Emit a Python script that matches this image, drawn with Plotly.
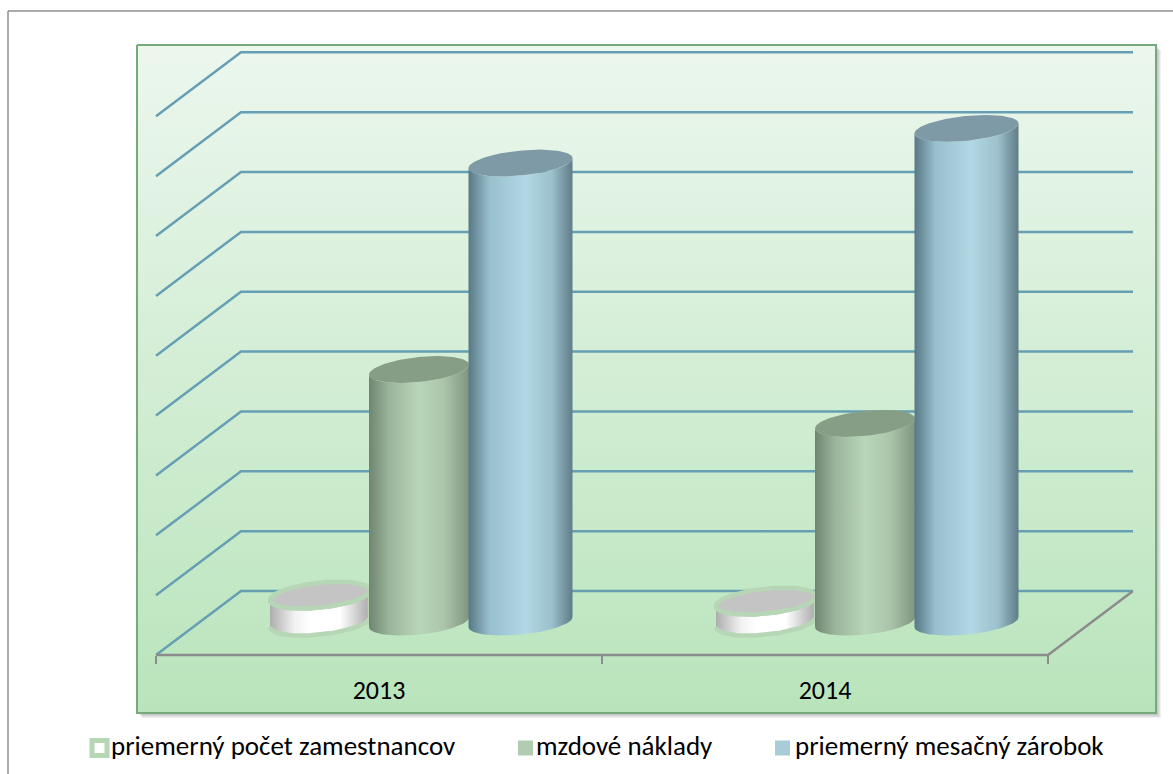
import numpy as np
import plotly.graph_objects as go

# values read in gridline units (the chart shows no value axis)
years = ["2013", "2014"]
pocet = [0.45, 0.35]
naklady = [4.22, 3.32]
zarobok = [7.67, 8.25]
grid_levels = [0, 1, 2, 3, 4, 5, 6, 7, 8, 9]
legend_names = ["priemerný počet zamestnancov", "mzdové náklady", "priemerný mesačný zárobok"]

W, H = 1173, 774
UNIT = 59.85      # px per gridline step
FLOOR = 591       # px of value 0 on the back wall
BASE = -0.52      # cylinders stand half way into the floor
FRONT_X0, FRONT_X1 = 156, 1048
DEPTH_X, DEPTH_Y = 85, 64
GROUP = (FRONT_X1 - FRONT_X0) / 2
FONT = "Carlito, Lato, sans-serif"
GRID_COLOR = "#669fb4"
AXIS_COLOR = "#8c8c8c"


def py(px):
    # pixel row to y axis value, only for the frame and legend
    return (FLOOR - px) / UNIT


def ellipse(cx, cy, a, t):
    # tilted ellipse seen from above, sin(t) > 0 is the front half
    return cx + a * np.cos(t), cy + (5 / UNIT) * np.cos(t) - (12.5 / UNIT) * np.sin(t)


def cylinder(fig, cx, value, a, side, top, line=None):
    top_y = BASE + value
    bx, by = ellipse(cx, BASE, a, np.linspace(np.pi, 0, 60))
    tx, ty = ellipse(cx, top_y, a, np.linspace(0, np.pi, 60))
    line_style = dict(color=line, width=4.5) if line else dict(width=0)
    fig.add_trace(go.Scatter(
        x=np.r_[bx, tx], y=np.r_[by, ty], mode="lines", fill="toself",
        fillgradient=dict(type="horizontal", colorscale=side),
        line=line_style, hoverinfo="skip", showlegend=False))
    ox, oy = ellipse(cx, top_y, a, np.linspace(0, 2 * np.pi, 120))
    fig.add_trace(go.Scatter(
        x=ox, y=oy, mode="lines", fill="toself", fillcolor=top,
        line=line_style, hoverinfo="skip", showlegend=False))


fig = go.Figure()

# panel
fig.add_trace(go.Scatter(
    x=[137, 1156, 1156, 137, 137], y=[py(45), py(45), py(713), py(713), py(45)],
    mode="lines", fill="toself",
    fillgradient=dict(type="vertical", colorscale=[[0, "#b9e4bb"], [1, "#ecf7ee"]]),
    line=dict(color="#77a97a", width=2), hoverinfo="skip", showlegend=False))

# walls and floor
for lev in grid_levels:
    fig.add_trace(go.Scatter(
        x=[FRONT_X0, FRONT_X0 + DEPTH_X, FRONT_X1 + DEPTH_X],
        y=[lev - DEPTH_Y / UNIT, lev, lev],
        mode="lines", line=dict(color=GRID_COLOR, width=2.5),
        hoverinfo="skip", showlegend=False))
fig.add_trace(go.Scatter(
    x=[FRONT_X0, FRONT_X1, FRONT_X1 + DEPTH_X],
    y=[-DEPTH_Y / UNIT, -DEPTH_Y / UNIT, 0],
    mode="lines", line=dict(color=AXIS_COLOR, width=2.5),
    hoverinfo="skip", showlegend=False))

white_side = [[0, "#adadad"], [0.25, "#f2f2f2"], [0.4, "#ffffff"], [0.7, "#ffffff"], [1, "#a8a8a8"]]
green_side = [[0, "#6f8570"], [0.2, "#9ab49b"], [0.5, "#b9d6b9"], [0.75, "#abc5ab"], [1, "#7f957f"]]
blue_side = [[0, "#587885"], [0.2, "#98bfcc"], [0.55, "#b1d8e4"], [0.8, "#9cc0cc"], [1, "#5f7d88"]]

for i in range(len(years)):
    center = FRONT_X0 + GROUP * (i + 0.5) + 40
    cylinder(fig, center - 99, pocet[i], 50, white_side, "#c4c4c4", line="#b6d6b6")
    cylinder(fig, center, naklady[i], 50, green_side, "#869d86")
    cylinder(fig, center + 101.5, zarobok[i], 52, blue_side, "#7f9aa7")

# legend, placed by hand so the gaps follow the text widths
legend_y = py(748)
swatch_x = [99.5, 525.5, 782.5]
text_x = [111, 536, 795]
swatch_style = [
    dict(symbol="square", size=15, color="#ffffff", line=dict(color="#b6d6b6", width=5)),
    dict(symbol="square", size=15, color="#b1ccb1"),
    dict(symbol="square", size=15, color="#a8ccd8"),
]
for name, sx, tx, style in zip(legend_names, swatch_x, text_x, swatch_style):
    fig.add_trace(go.Scatter(x=[sx], y=[legend_y], mode="markers", marker=style,
                             hoverinfo="skip", showlegend=False))
    fig.add_trace(go.Scatter(x=[tx], y=[legend_y], mode="text", text=[name],
                             textposition="middle right",
                             textfont=dict(family=FONT, size=27, color="#000000"),
                             hoverinfo="skip", showlegend=False))

# outer frame and panel shadow
shapes = [
    dict(type="line", xref="x", yref="y", x0=8, x1=W, y0=py(11), y1=py(11),
         line=dict(color="#8f8f8f", width=1.5), layer="below"),
    dict(type="line", xref="x", yref="y", x0=8, x1=8, y0=py(11), y1=py(H),
         line=dict(color="#8f8f8f", width=1.5), layer="below"),
]
for off in [1, 2, 3, 4, 5]:
    shapes.append(dict(type="rect", xref="x", yref="y", x0=137 + off, x1=1156 + off,
                       y0=py(45 + off), y1=py(713 + off),
                       fillcolor="rgba(0,0,0,0.06)", line=dict(width=0), layer="below"))

fig.update_layout(
    width=W, height=H, margin=dict(l=0, r=0, t=0, b=0),
    paper_bgcolor="#ffffff", plot_bgcolor="#ffffff",
    shapes=shapes, showlegend=False,
    font=dict(family=FONT, size=20, color="#000000"),
    xaxis=dict(
        range=[0, W], anchor="free", position=1 - 655 / H,
        showgrid=False, zeroline=False, showline=False, ticks="",
        tickvals=[FRONT_X0 + GROUP * (i + 0.5) for i in range(len(years))],
        ticktext=years, tickfont=dict(family=FONT, size=26, color="#000000"),
        ticklabelstandoff=17,
        minor=dict(tickmode="array", tickvals=[FRONT_X0, FRONT_X0 + GROUP, FRONT_X1],
                   ticks="outside", ticklen=8, tickwidth=1.5, tickcolor=AXIS_COLOR),
    ),
    yaxis=dict(range=[py(H), py(0)], visible=False),
)

fig.write_html("out.html", post_script="document.body.style.margin='0';",
               config=dict(displayModeBar=False))
